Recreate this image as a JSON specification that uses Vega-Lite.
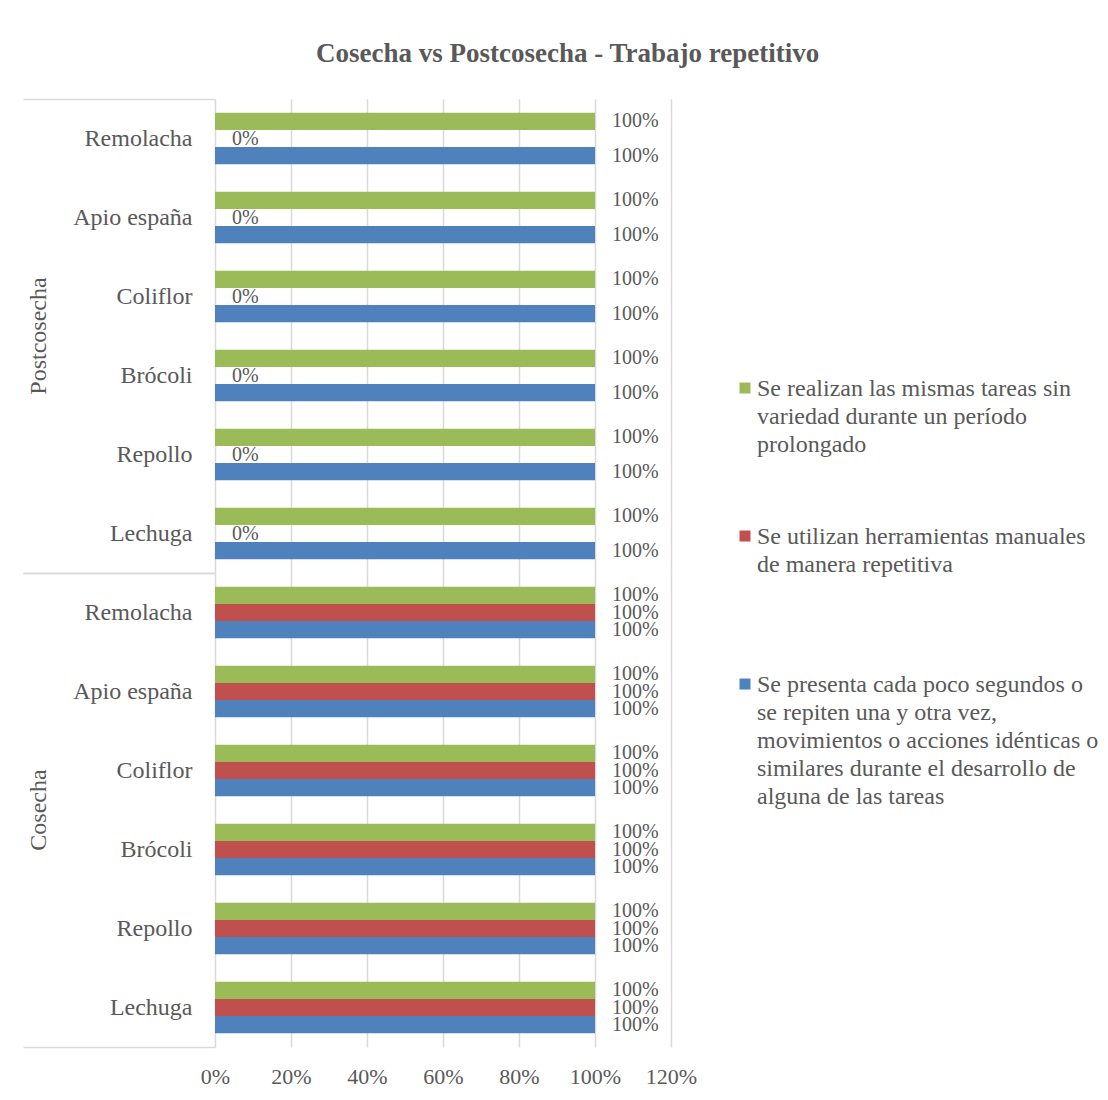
{
  "$schema": "https://vega.github.io/schema/vega-lite/v6.json",
  "background": "white",
  "padding": {"left": 22, "top": 40, "right": 5, "bottom": 5},
  "title": {
    "text": "Cosecha vs Postcosecha - Trabajo repetitivo",
    "font": "Liberation Serif",
    "fontSize": 27,
    "fontWeight": "bold",
    "color": "#595959",
    "anchor": "middle",
    "frame": "bounds",
    "offset": 30,
    "dx": 7
  },
  "data": {
    "values": [
      {"etapa": "Postcosecha", "cultivo": "Remolacha", "serie": "Se realizan las mismas tareas sin variedad durante un período prolongado", "valor": 1},
      {"etapa": "Postcosecha", "cultivo": "Remolacha", "serie": "Se utilizan herramientas manuales de manera repetitiva", "valor": 0},
      {"etapa": "Postcosecha", "cultivo": "Remolacha", "serie": "Se presenta cada poco segundos o se repiten una y otra vez, movimientos o acciones idénticas o similares durante el desarrollo de alguna de las tareas", "valor": 1},
      {"etapa": "Postcosecha", "cultivo": "Apio españa", "serie": "Se realizan las mismas tareas sin variedad durante un período prolongado", "valor": 1},
      {"etapa": "Postcosecha", "cultivo": "Apio españa", "serie": "Se utilizan herramientas manuales de manera repetitiva", "valor": 0},
      {"etapa": "Postcosecha", "cultivo": "Apio españa", "serie": "Se presenta cada poco segundos o se repiten una y otra vez, movimientos o acciones idénticas o similares durante el desarrollo de alguna de las tareas", "valor": 1},
      {"etapa": "Postcosecha", "cultivo": "Coliflor", "serie": "Se realizan las mismas tareas sin variedad durante un período prolongado", "valor": 1},
      {"etapa": "Postcosecha", "cultivo": "Coliflor", "serie": "Se utilizan herramientas manuales de manera repetitiva", "valor": 0},
      {"etapa": "Postcosecha", "cultivo": "Coliflor", "serie": "Se presenta cada poco segundos o se repiten una y otra vez, movimientos o acciones idénticas o similares durante el desarrollo de alguna de las tareas", "valor": 1},
      {"etapa": "Postcosecha", "cultivo": "Brócoli", "serie": "Se realizan las mismas tareas sin variedad durante un período prolongado", "valor": 1},
      {"etapa": "Postcosecha", "cultivo": "Brócoli", "serie": "Se utilizan herramientas manuales de manera repetitiva", "valor": 0},
      {"etapa": "Postcosecha", "cultivo": "Brócoli", "serie": "Se presenta cada poco segundos o se repiten una y otra vez, movimientos o acciones idénticas o similares durante el desarrollo de alguna de las tareas", "valor": 1},
      {"etapa": "Postcosecha", "cultivo": "Repollo", "serie": "Se realizan las mismas tareas sin variedad durante un período prolongado", "valor": 1},
      {"etapa": "Postcosecha", "cultivo": "Repollo", "serie": "Se utilizan herramientas manuales de manera repetitiva", "valor": 0},
      {"etapa": "Postcosecha", "cultivo": "Repollo", "serie": "Se presenta cada poco segundos o se repiten una y otra vez, movimientos o acciones idénticas o similares durante el desarrollo de alguna de las tareas", "valor": 1},
      {"etapa": "Postcosecha", "cultivo": "Lechuga", "serie": "Se realizan las mismas tareas sin variedad durante un período prolongado", "valor": 1},
      {"etapa": "Postcosecha", "cultivo": "Lechuga", "serie": "Se utilizan herramientas manuales de manera repetitiva", "valor": 0},
      {"etapa": "Postcosecha", "cultivo": "Lechuga", "serie": "Se presenta cada poco segundos o se repiten una y otra vez, movimientos o acciones idénticas o similares durante el desarrollo de alguna de las tareas", "valor": 1},
      {"etapa": "Cosecha", "cultivo": "Remolacha", "serie": "Se realizan las mismas tareas sin variedad durante un período prolongado", "valor": 1},
      {"etapa": "Cosecha", "cultivo": "Remolacha", "serie": "Se utilizan herramientas manuales de manera repetitiva", "valor": 1},
      {"etapa": "Cosecha", "cultivo": "Remolacha", "serie": "Se presenta cada poco segundos o se repiten una y otra vez, movimientos o acciones idénticas o similares durante el desarrollo de alguna de las tareas", "valor": 1},
      {"etapa": "Cosecha", "cultivo": "Apio españa", "serie": "Se realizan las mismas tareas sin variedad durante un período prolongado", "valor": 1},
      {"etapa": "Cosecha", "cultivo": "Apio españa", "serie": "Se utilizan herramientas manuales de manera repetitiva", "valor": 1},
      {"etapa": "Cosecha", "cultivo": "Apio españa", "serie": "Se presenta cada poco segundos o se repiten una y otra vez, movimientos o acciones idénticas o similares durante el desarrollo de alguna de las tareas", "valor": 1},
      {"etapa": "Cosecha", "cultivo": "Coliflor", "serie": "Se realizan las mismas tareas sin variedad durante un período prolongado", "valor": 1},
      {"etapa": "Cosecha", "cultivo": "Coliflor", "serie": "Se utilizan herramientas manuales de manera repetitiva", "valor": 1},
      {"etapa": "Cosecha", "cultivo": "Coliflor", "serie": "Se presenta cada poco segundos o se repiten una y otra vez, movimientos o acciones idénticas o similares durante el desarrollo de alguna de las tareas", "valor": 1},
      {"etapa": "Cosecha", "cultivo": "Brócoli", "serie": "Se realizan las mismas tareas sin variedad durante un período prolongado", "valor": 1},
      {"etapa": "Cosecha", "cultivo": "Brócoli", "serie": "Se utilizan herramientas manuales de manera repetitiva", "valor": 1},
      {"etapa": "Cosecha", "cultivo": "Brócoli", "serie": "Se presenta cada poco segundos o se repiten una y otra vez, movimientos o acciones idénticas o similares durante el desarrollo de alguna de las tareas", "valor": 1},
      {"etapa": "Cosecha", "cultivo": "Repollo", "serie": "Se realizan las mismas tareas sin variedad durante un período prolongado", "valor": 1},
      {"etapa": "Cosecha", "cultivo": "Repollo", "serie": "Se utilizan herramientas manuales de manera repetitiva", "valor": 1},
      {"etapa": "Cosecha", "cultivo": "Repollo", "serie": "Se presenta cada poco segundos o se repiten una y otra vez, movimientos o acciones idénticas o similares durante el desarrollo de alguna de las tareas", "valor": 1},
      {"etapa": "Cosecha", "cultivo": "Lechuga", "serie": "Se realizan las mismas tareas sin variedad durante un período prolongado", "valor": 1},
      {"etapa": "Cosecha", "cultivo": "Lechuga", "serie": "Se utilizan herramientas manuales de manera repetitiva", "valor": 1},
      {"etapa": "Cosecha", "cultivo": "Lechuga", "serie": "Se presenta cada poco segundos o se repiten una y otra vez, movimientos o acciones idénticas o similares durante el desarrollo de alguna de las tareas", "valor": 1}
    ]
  },
  "facet": {
    "row": {
      "field": "etapa",
      "type": "nominal",
      "sort": ["Postcosecha", "Cosecha"],
      "title": null,
      "header": {
        "labelAngle": -90,
        "labelOrient": "left",
        "labelFont": "Liberation Serif",
        "labelFontSize": 24,
        "labelColor": "#595959",
        "labelPadding": -41
      }
    }
  },
  "spacing": 0,
  "spec": {
    "width": 456,
    "height": 474,
    "encoding": {
      "yOffset": {
        "field": "serie",
        "type": "nominal",
        "sort": [
          "Se realizan las mismas tareas sin variedad durante un período prolongado",
          "Se utilizan herramientas manuales de manera repetitiva",
          "Se presenta cada poco segundos o se repiten una y otra vez, movimientos o acciones idénticas o similares durante el desarrollo de alguna de las tareas"
        ],
        "scale": {"paddingInner": 0, "paddingOuter": 0.8}
      },
      "x": {
        "field": "valor",
        "type": "quantitative",
        "scale": {"domain": [0, 1.2], "nice": false},
        "axis": {
          "title": null,
          "values": [0, 0.2, 0.4, 0.6, 0.8, 1, 1.2],
          "format": ".0%",
          "domain": false,
          "ticks": false,
          "grid": true,
          "gridColor": "#d9d9d9",
          "gridWidth": 1.5,
          "labelOverlap": false,
          "labelFlush": false,
          "labelPadding": 19,
          "labelFont": "Liberation Serif",
          "labelFontSize": 22,
          "labelColor": "#595959"
        }
      }
    },
    "layer": [
      {
        "mark": {"type": "bar"},
        "encoding": {
          "y": {
            "field": "cultivo",
            "type": "nominal",
            "sort": ["Remolacha", "Apio españa", "Coliflor", "Brócoli", "Repollo", "Lechuga"],
            "scale": {"paddingInner": 0, "paddingOuter": 0},
            "axis": {
              "title": null,
              "orient": "left",
              "domain": false,
              "ticks": true,
              "bandPosition": 0,
              "tickSize": 192,
              "tickWidth": 1.5,
              "tickColor": {
                "condition": {"test": "datum.value === 'Remolacha'", "value": "#d9d9d9"},
                "value": "transparent"
              },
              "labelPadding": -169,
              "labelFont": "Liberation Serif",
              "labelFontSize": 24,
              "labelColor": "#595959"
            }
          },
          "color": {
            "field": "serie",
            "type": "nominal",
            "scale": {
              "domain": [
                "Se realizan las mismas tareas sin variedad durante un período prolongado",
                "Se utilizan herramientas manuales de manera repetitiva",
                "Se presenta cada poco segundos o se repiten una y otra vez, movimientos o acciones idénticas o similares durante el desarrollo de alguna de las tareas"
              ],
              "range": ["#9BBB59", "#C0504D", "#4F81BD"]
            },
            "legend": {
              "title": null,
              "orient": "none",
              "legendX": 518,
              "legendY": 285,
              "labelFont": "Liberation Serif",
              "labelFontSize": 24,
              "labelColor": "#595959",
              "labelLimit": 600,
              "labelOffset": 0,
              "labelBaseline": "alphabetic",
              "symbolType": "M-1,-2.45H1V-0.45H-1Z",
              "symbolSize": 121,
              "symbolStrokeWidth": 0,
              "rowPadding": 12,
              "labelExpr": "indexof(datum.label, 'Se realizan') === 0 ? ['Se realizan las mismas tareas sin', 'variedad durante un período', 'prolongado', '', ''] : indexof(datum.label, 'Se utilizan') === 0 ? ['Se utilizan herramientas manuales', 'de manera repetitiva', '', '', ''] : ['Se presenta cada poco segundos o', 'se repiten una y otra vez,', 'movimientos o acciones idénticas o', 'similares durante el desarrollo de', 'alguna de las tareas']"
            }
          }
        }
      },
      {
        "mark": {
          "type": "text",
          "align": "left",
          "baseline": "middle",
          "dx": 17,
          "font": "Liberation Serif",
          "fontSize": 20,
          "color": "#595959"
        },
        "encoding": {
          "y": {
            "field": "cultivo",
            "type": "nominal",
            "sort": ["Remolacha", "Apio españa", "Coliflor", "Brócoli", "Repollo", "Lechuga"],
            "axis": {
              "title": null,
              "orient": "left",
              "domain": false,
              "labels": false,
              "ticks": true,
              "bandPosition": 1,
              "tickSize": 192,
              "tickWidth": 1.5,
              "tickColor": {
                "condition": {"test": "datum.value === 'Lechuga'", "value": "#d9d9d9"},
                "value": "transparent"
              }
            }
          },
          "text": {"field": "valor", "type": "quantitative", "format": ".0%"}
        }
      }
    ],
    "resolve": {"axis": {"y": "independent"}}
  },
  "config": {
    "view": {"stroke": null},
    "style": {"guide-label": {"lineHeight": 28}}
  }
}
